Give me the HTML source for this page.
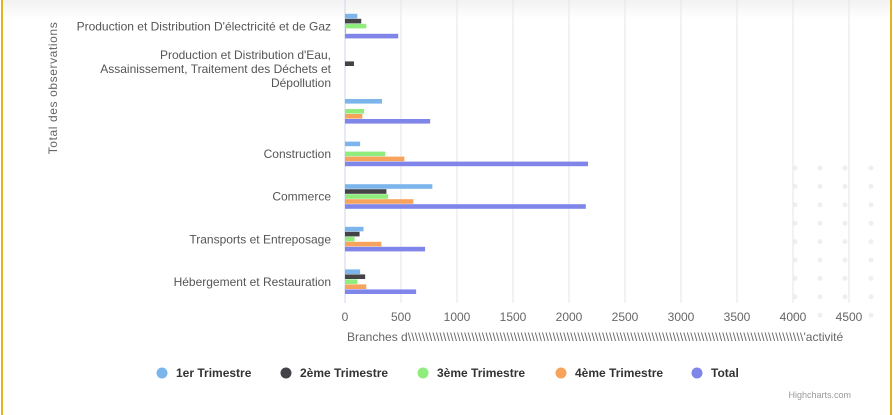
<!DOCTYPE html>
<html><head><meta charset="utf-8"><style>
html,body{margin:0;padding:0;background:#fff}
svg{display:block;font-family:"Liberation Sans",sans-serif}
</style></head><body>
<svg id="chart" width="893" height="415">
<defs><linearGradient id="tg" x1="0" y1="0" x2="0" y2="1"><stop offset="0" stop-color="#f2f2f2"/><stop offset="1" stop-color="#fff"/></linearGradient></defs>
<rect x="0" y="0" width="893" height="415" fill="#fff"/>
<rect x="3" y="0" width="888" height="20" fill="url(#tg)"/>
<rect x="1" y="0" width="2" height="415" fill="#e0b420"/>
<rect x="890" y="0" width="2" height="415" fill="#e0b420"/>
<g id="dots"></g>
<g id="grid"></g>
<g id="bars"></g>
<g id="labels" font-size="12" fill="#555"></g>
<text x="57" y="88" transform="rotate(-90 57 88)" text-anchor="middle" font-size="12" fill="#666" letter-spacing="0.6">Total des observations</text>
<text x="347" y="341" font-size="12" fill="#666">Branches d<tspan letter-spacing="0.2">\\\\\\\\\\\\\\\\\\\\\\\\\\\\\\\\\\\\\\\\\\\\\\\\\\\\\\\\\\\\\\\\\\\\\\\\\\\\\\\\\\\\\\\\\\\\\\\\\\\\\\\\\\\\\\\\</tspan>'activité</text>
<g id="legend" font-size="12" font-weight="bold" fill="#333"></g>
<text x="851" y="398" text-anchor="end" font-size="9" fill="#999">Highcharts.com</text>
</svg>
<script>
const categories=["Production et Distribution D'électricité et de Gaz","Production et Distribution d'Eau,|Assainissement, Traitement des Déchets et|Dépollution","","Construction","Commerce","Transports et Entreposage","Hébergement et Restauration"];
const seriesNames=["1er Trimestre","2ème Trimestre","3ème Trimestre","4ème Trimestre","Total"];
const colors=["#7cb5ec","#434348","#90ed7d","#f7a35c","#8085e9"];
const q1=[110,0,330,135,780,165,135];
const q2=[145,80,0,0,370,130,180];
const q3=[190,0,170,360,385,85,110];
const q4=[10,0,155,530,610,325,190];
const total=[475,0,760,2170,2150,715,635];
const xTicks=[0,500,1000,1500,2000,2500,3000,3500,4000,4500];
const series=[q1,q2,q3,q4,total];
const NS="http://www.w3.org/2000/svg";
const X0=345,PXPER=56/500,PTOP=5,BAND=42.6,PBOTTOM=303;
const xs=v=>X0+v*PXPER;
const yc=i=>PTOP+BAND*(i+0.5);
function mk(t,a,p){const e=document.createElementNS(NS,t);for(const k in a)e.setAttribute(k,a[k]);p.appendChild(e);return e;}
const dots=document.getElementById('dots');
[795,820,845,871].forEach(x=>{for(let y=168;y<=333;y+=18.4){mk('circle',{cx:x,cy:y,r:2.5,fill:'#efefef'},dots);}});
const grid=document.getElementById('grid');
xTicks.forEach(t=>{
 const l=mk('line',{x1:xs(t),x2:xs(t),y1:0,y2:PBOTTOM,stroke:t===0?'#ccd6eb':'#e6e6e6','stroke-width':1},grid);
 
 
 const tx=mk('text',{x:xs(t),y:321,'text-anchor':'middle','font-size':12,fill:'#666'},grid);
 tx.textContent=t;
 
 
});
const bars=document.getElementById('bars');
categories.forEach((c,i)=>{
 series.forEach((s,j)=>{
  const v=s[i]; if(!v) return;
  const y=yc(i)-12.5+j*5;
  const r=mk('rect',{x:X0,y:y,width:v*PXPER,height:4.6,fill:colors[j]},bars);
  
  
 });
});
const labels=document.getElementById('labels');
categories.forEach((c,i)=>{
 const lines=c.split('|');
 const t=mk('text',{x:331,y:yc(i)+4-(lines.length-1)*7,'text-anchor':'end'},labels);
 lines.forEach((ln,k)=>{const ts=mk('tspan',{x:331,dy:k?14:0},t);ts.textContent=ln;});
 
 
});
const legend=document.getElementById('legend');
const lx=[162,286,423,561,697];
seriesNames.forEach((n,j)=>{
 const g=mk('g',{},legend);
 
 
 mk('circle',{cx:lx[j],cy:373,r:5.5,fill:colors[j]},g);
 const t=mk('text',{x:lx[j]+14,y:377},g);t.textContent=n;
});
</script>
</body></html>
